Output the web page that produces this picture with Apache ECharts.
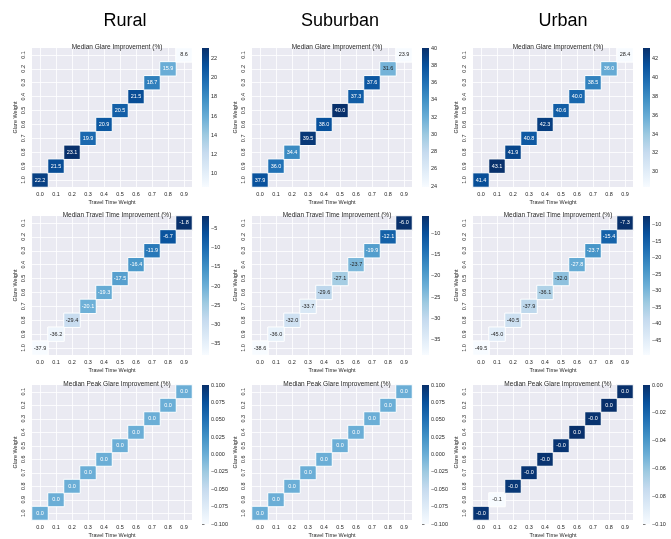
<!DOCTYPE html>
<html>
<head>
<meta charset="utf-8">
<script src="https://cdn.jsdelivr.net/npm/echarts@6/dist/echarts.min.js"></script>
<style>
  html, body { margin: 0; padding: 0; background: #fff; }
  #chart { width: 671px; height: 539px; }
</style>
</head>
<body>
<div id="chart"></div>
<script>
// Axis categories
const travelTimeWeights = ['0.0', '0.1', '0.2', '0.3', '0.4', '0.5', '0.6', '0.7', '0.8', '0.9'];
const glareWeights = ['0.1', '0.2', '0.3', '0.4', '0.5', '0.6', '0.7', '0.8', '0.9', '1.0'];
const areaNames = ['Rural', 'Suburban', 'Urban'];
const metricTitles = [
  'Median Glare Improvement (%)',
  'Median Travel Time Improvement (%)',
  'Median Peak Glare Improvement (%)'
];

// One value per travel-time weight (glare weight = 1 - travel-time weight)
const ruralGlare = [22.2, 21.5, 23.1, 19.9, 20.9, 20.5, 21.5, 18.7, 15.9, 8.6];
const suburbanGlare = [37.9, 36.0, 34.4, 39.5, 38.0, 40.0, 37.3, 37.6, 31.6, 23.9];
const urbanGlare = [41.4, 43.1, 41.9, 40.8, 42.3, 40.6, 40.0, 38.5, 36.0, 28.4];

const ruralTravel = [-37.9, -36.2, -29.4, -20.1, -19.3, -17.5, -16.4, -11.9, -6.7, -1.8];
const suburbanTravel = [-38.6, -36.0, -32.0, -33.7, -29.6, -27.1, -23.7, -19.9, -12.1, -6.0];
const urbanTravel = [-49.5, -45.0, -40.5, -37.9, -36.1, -32.0, -27.8, -23.7, -15.4, -7.3];

const ruralPeak = [0.0, 0.0, 0.0, 0.0, 0.0, 0.0, 0.0, 0.0, 0.0, 0.0];
const suburbanPeak = [0.0, 0.0, 0.0, 0.0, 0.0, 0.0, 0.0, 0.0, 0.0, 0.0];
const urbanPeak = [-0.002, -0.1, -0.003, -0.002, -0.001, -0.002, 0.0, -0.001, 0.0, 0.0];

// Colorbar tick values
const ruralGlareTicks = [10, 12, 14, 16, 18, 20, 22];
const suburbanGlareTicks = [24, 26, 28, 30, 32, 34, 36, 38, 40];
const urbanGlareTicks = [30, 32, 34, 36, 38, 40, 42];
const ruralTravelTicks = [-35, -30, -25, -20, -15, -10, -5];
const suburbanTravelTicks = [-35, -30, -25, -20, -15, -10];
const urbanTravelTicks = [-45, -40, -35, -30, -25, -20, -15, -10];
const ruralPeakTicks = [-0.1, -0.075, -0.05, -0.025, 0, 0.025, 0.05, 0.075, 0.1];
const suburbanPeakTicks = [-0.1, -0.075, -0.05, -0.025, 0, 0.025, 0.05, 0.075, 0.1];
const urbanPeakTicks = [-0.1, -0.08, -0.06, -0.04, -0.02, 0];

// rows: metric, columns: area
const panels = [
  [ { values: ruralGlare, ticks: ruralGlareTicks, digits: 0 },
    { values: suburbanGlare, ticks: suburbanGlareTicks, digits: 0 },
    { values: urbanGlare, ticks: urbanGlareTicks, digits: 0 } ],
  [ { values: ruralTravel, ticks: ruralTravelTicks, digits: 0 },
    { values: suburbanTravel, ticks: suburbanTravelTicks, digits: 0 },
    { values: urbanTravel, ticks: urbanTravelTicks, digits: 0 } ],
  [ { values: ruralPeak, ticks: ruralPeakTicks, digits: 3 },
    { values: suburbanPeak, ticks: suburbanPeakTicks, digits: 3 },
    { values: urbanPeak, ticks: urbanPeakTicks, digits: 2 } ]
];

// Layout
const colLeft = [32, 252, 473];
const rowTop = [48, 216, 385];
const plotW = 160;
const plotH = 139;
const cbarGap = 170;
const cbarW = 7;
const headerX = [120, 335, 558];
const FONT = '"Liberation Sans", Arial, sans-serif';
const INK = '#262626';

// matplotlib "Blues"
const BLUES = ['#f7fbff', '#deebf7', '#c6dbef', '#9ecae1', '#6baed6', '#4292c6', '#2171b5', '#08519c', '#08306b'];

function hexToRgb(h) {
  return [parseInt(h.slice(1, 3), 16), parseInt(h.slice(3, 5), 16), parseInt(h.slice(5, 7), 16)];
}
function bluesAt(t) {
  t = Math.max(0, Math.min(1, t));
  const pos = t * (BLUES.length - 1);
  const i = Math.min(BLUES.length - 2, Math.floor(pos));
  const f = pos - i;
  const a = hexToRgb(BLUES[i]), b = hexToRgb(BLUES[i + 1]);
  return a.map((c, k) => c + (b[k] - c) * f);
}
function annotColor(t) {
  const lum = bluesAt(t).map(c => {
    c /= 255;
    return c <= 0.03928 ? c / 12.92 : Math.pow((c + 0.055) / 1.055, 2.4);
  });
  const L = 0.2126 * lum[0] + 0.7152 * lum[1] + 0.0722 * lum[2];
  return L > 0.408 ? INK : '#ffffff';
}
function fmtTick(v, digits) {
  const s = Math.abs(v).toFixed(digits);
  return (v < 0 ? '\u2212' : '') + s;
}

const option = {
  animation: false,
  backgroundColor: '#ffffff',
  textStyle: { fontFamily: FONT },
  title: [],
  grid: [],
  xAxis: [],
  yAxis: [],
  visualMap: [],
  series: []
};

areaNames.forEach((name, c) => {
  option.title.push({
    text: name,
    left: headerX[c],
    top: 7,
    textAlign: 'center',
    textStyle: { fontSize: 18, fontWeight: 'normal', color: '#000', fontFamily: FONT }
  });
});

panels.forEach((row, r) => {
  row.forEach((p, c) => {
    let vmin = Math.min(...p.values);
    let vmax = Math.max(...p.values);
    if (vmin === vmax) { vmin -= 0.1; vmax += 0.1; }

    const left = colLeft[c];
    const top = rowTop[r];
    const gHeat = option.grid.length;

    option.title.push({
      text: metricTitles[r],
      left: left + plotW / 2,
      top: top - 9,
      textAlign: 'center',
      textStyle: { fontSize: 6.5, fontWeight: 'normal', color: INK, fontFamily: FONT }
    });

    // heatmap panel
    option.grid.push({
      left: left, top: top, width: plotW, height: plotH,
      show: true, backgroundColor: '#EAEAF2', borderWidth: 0
    });
    option.xAxis.push({
      type: 'category', gridIndex: gHeat, data: travelTimeWeights,
      axisLine: { show: false }, axisTick: { show: false },
      axisLabel: { fontSize: 5.5, color: INK, margin: 4, interval: 0 },
      name: 'Travel Time Weight', nameLocation: 'middle', nameGap: 12,
      nameTextStyle: { fontSize: 5.5, color: INK },
      splitLine: { show: true, alignWithLabel: true, lineStyle: { color: '#ffffff', width: 0.8 } }
    });
    option.yAxis.push({
      type: 'category', gridIndex: gHeat, data: glareWeights, inverse: true,
      axisLine: { show: false }, axisTick: { show: false },
      axisLabel: { fontSize: 5.5, color: INK, margin: 6, rotate: 90, interval: 0 },
      name: 'Glare Weight', nameLocation: 'middle', nameGap: 14, nameRotate: 90,
      nameTextStyle: { fontSize: 5.5, color: INK },
      splitLine: { show: true, alignWithLabel: true, lineStyle: { color: '#ffffff', width: 0.8 } }
    });
    const heatIndex = option.series.length;
    option.series.push({
      type: 'heatmap',
      xAxisIndex: gHeat, yAxisIndex: gHeat,
      data: p.values.map((v, i) => ({
        value: [i, glareWeights.length - 1 - i, v],
        label: { color: annotColor((v - vmin) / (vmax - vmin)) }
      })),
      itemStyle: { borderColor: '#ffffff', borderWidth: 1 },
      label: {
        show: true, fontSize: 5.5, fontFamily: FONT,
        formatter: prm => prm.value[2].toFixed(1)
      },
      emphasis: { disabled: true }
    });
    option.visualMap.push({
      type: 'continuous', show: false, seriesIndex: heatIndex, dimension: 2,
      min: vmin, max: vmax, inRange: { color: BLUES }
    });

    // colorbar
    const gBar = option.grid.length;
    option.grid.push({ left: left + cbarGap, top: top, width: cbarW, height: plotH });
    option.xAxis.push({ type: 'value', gridIndex: gBar, min: 0, max: 1, show: false });
    option.yAxis.push({
      type: 'value', gridIndex: gBar, min: vmin, max: vmax, position: 'right',
      axisLine: { show: false },
      axisTick: { show: true, length: 2.5, customValues: p.ticks, lineStyle: { color: INK, width: 0.6 } },
      axisLabel: {
        fontSize: 5.5, color: INK, margin: 2, customValues: p.ticks,
        formatter: v => fmtTick(v, p.digits)
      },
      splitLine: { show: false }
    });
    const stops = BLUES.map((col, k) => ({ offset: 1 - k / (BLUES.length - 1), color: col }));
    option.series.push({
      type: 'custom',
      xAxisIndex: gBar, yAxisIndex: gBar,
      data: [[0, vmax, vmin]],
      encode: { x: 0, y: [1, 2] },
      silent: true,
      renderItem: (params, api) => {
        const a = api.coord([0, api.value(1)]);
        const b = api.coord([0, api.value(2)]);
        const cs = params.coordSys;
        return {
          type: 'rect',
          shape: { x: cs.x, y: a[1], width: cs.width, height: b[1] - a[1] },
          style: { fill: new echarts.graphic.LinearGradient(0, 0, 0, 1, stops) }
        };
      }
    });
  });
});

const chart = echarts.init(document.getElementById('chart'), null, { renderer: 'canvas' });
chart.setOption(option);
</script>
</body>
</html>
